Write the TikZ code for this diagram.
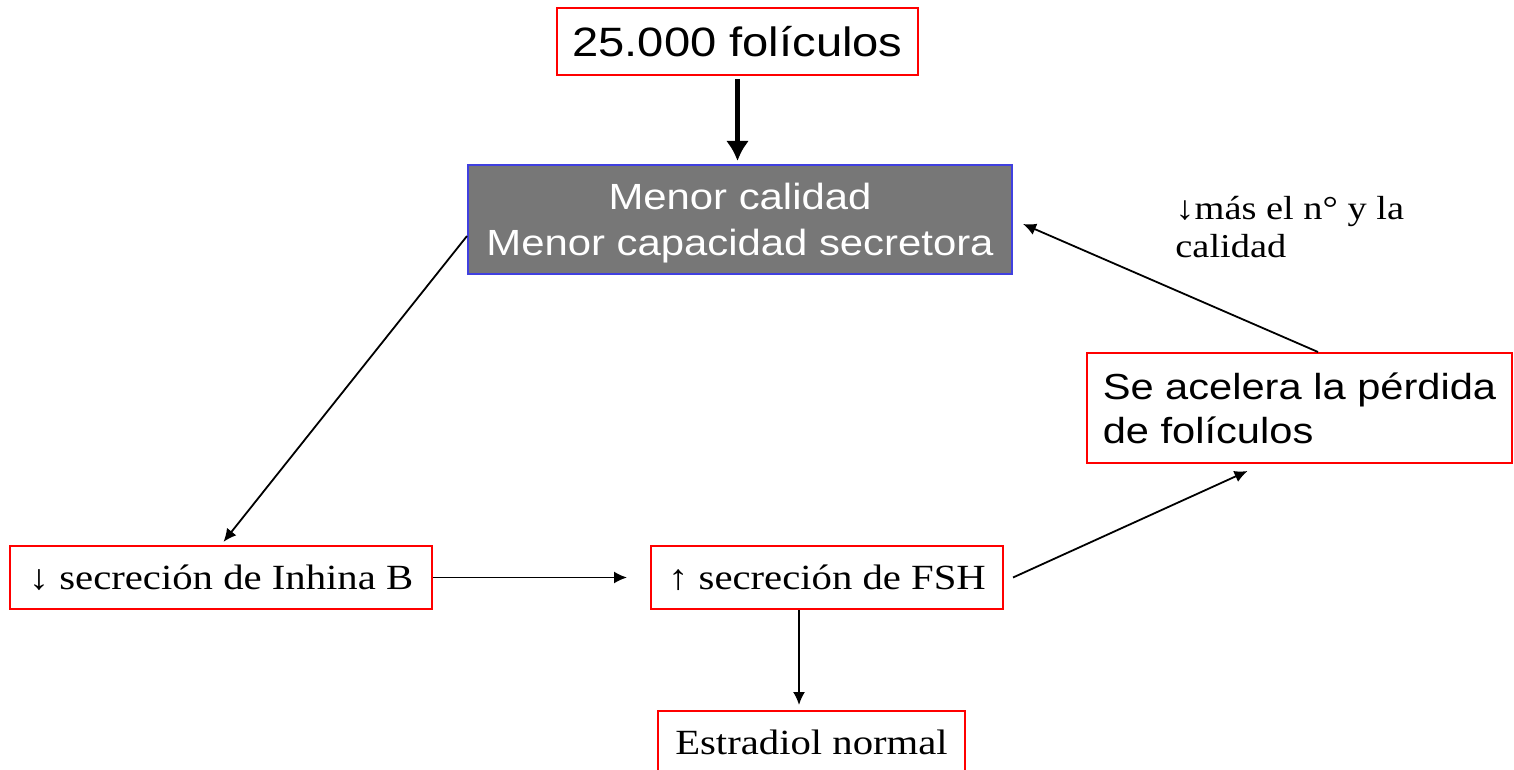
\documentclass[tikz,border=0pt]{standalone}
\usepackage{fontspec}
\setmainfont[FakeStretch=1.15]{Liberation Serif}
\newfontfamily\anchasans[FakeStretch=1.15]{Liberation Sans}
\usetikzlibrary{arrows.meta,positioning}
\definecolor{cajagris}{RGB}{119,119,119}
\definecolor{bordeazul}{RGB}{64,64,224}

\begin{document}
\begin{tikzpicture}[x=.5pt,y=-.5pt,
    caja/.style={draw=red,line width=1pt,inner sep=0pt,align=center,minimum height=31.5pt},
    flecha/.style={-{Latex[length=6.5pt,width=6pt]},line width=.9pt}]
  \useasboundingbox (0,0) rectangle (1514,770);
  \def\letrasans#1#2{\anchasans\fontsize{#1}{#2}\selectfont}
  \def\letraserif#1#2{\fontsize{#1}{#2}\selectfont}

  % cajas de arriba
  \node[caja,minimum width=180.5pt,minimum height=33.5pt,font=\letrasans{20.5pt}{24pt}] (fol) at (737.5,41.5) {25.000 folículos};
  \node[draw=bordeazul,fill=cajagris,text=white,line width=1pt,inner sep=0pt,align=center,text depth=-2.2pt,
        minimum width=272pt,minimum height=54.5pt,font=\letrasans{18.2pt}{23pt}] (cal) at (740,219.5)
        {Menor calidad\\Menor capacidad secretora};
  \node[caja,minimum width=212.5pt,minimum height=55pt,align=left,font=\letrasans{18.1pt}{22pt}] (perd) at (1299.5,408)
        {Se acelera la pérdida\\de folículos};
  \node[align=left,anchor=north west,inner sep=0pt,font=\letraserif{16.7pt}{19pt}] (nota) at (1175,196)
        {↓más el n° y la\\calidad};

  % cajas de abajo
  \node[caja,minimum width=211pt,font=\letraserif{17.7pt}{21pt}] (inh) at (221,577.5) {↓ secreción de Inhina B};
  \node[caja,minimum width=176pt,font=\letraserif{17.7pt}{21pt}] (fsh) at (827,577.5) {↑ secreción de FSH};
  \node[caja,minimum width=153.5pt,font=\letraserif{17.7pt}{21pt}] (est) at (811.5,742.5) {Estradiol normal};

  \draw[flecha,-{Latex[length=10pt,width=11.5pt]},line width=2.5pt,shorten <=1.5pt,shorten >=1.5pt] (fol.south) -- (fol.south |- cal.north);
  \draw[flecha,shorten >=2pt] ([yshift=-8.25pt]cal.west) -- (inh.north);
  \draw[flecha,shorten >=11.5pt] (inh.east) -- (fsh.west);
  \draw[flecha] ([xshift=4.5pt]fsh.east) -- ([xshift=-26pt,yshift=-3.5pt]perd.south);
  \draw[flecha] ([xshift=9.25pt]perd.north) -- ([xshift=5pt,yshift=-2.25pt]cal.east);
  \draw[flecha,shorten >=2.5pt] ([xshift=-14pt]fsh.south) -- ([xshift=-14pt]fsh.south |- est.north);
\end{tikzpicture}
\end{document}
